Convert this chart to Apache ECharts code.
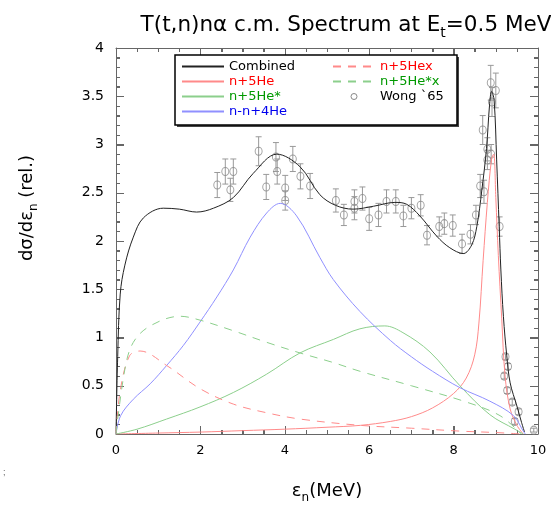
<!DOCTYPE html>
<html>
<head>
<meta charset="utf-8">
<script src="https://cdn.jsdelivr.net/npm/echarts@6/dist/echarts.min.js"></script>
<style>
  html, body { margin: 0; padding: 0; background: #fff; }
  #main { width: 551px; height: 509px; }
</style>
</head>
<body>
<div id="main"></div>
<script>
// curves, [energy MeV, value]
const combined = [[0, 0], [0.04, 0.8], [0.1, 1.45], [0.21, 1.75], [0.41, 2.04], [0.65, 2.24], [1.12, 2.34],
  [1.5, 2.33], [1.91, 2.30], [2.31, 2.34], [2.78, 2.45], [3.25, 2.70], [3.81, 2.90], [4.36, 2.77],
  [4.83, 2.48], [5.2, 2.37], [5.62, 2.33], [6.1, 2.36], [6.61, 2.40], [6.89, 2.38], [7.2, 2.26],
  [7.6, 2.05], [7.91, 1.93], [8.23, 1.87], [8.43, 1.96], [8.55, 2.15], [8.67, 2.53], [8.78, 2.96],
  [8.85, 3.4], [8.9, 3.55], [8.96, 3.46], [9.02, 2.84], [9.08, 2.15], [9.12, 1.7], [9.18, 1.22],
  [9.26, 0.81], [9.34, 0.53], [9.5, 0.29], [9.61, 0.12], [9.68, 0.02]];
const n5He = [[0, 0], [1, 0.01], [2, 0.02], [3, 0.035], [4, 0.05], [5, 0.07], [5.8, 0.09], [6.5, 0.13],
  [7, 0.18], [7.5, 0.27], [8, 0.42], [8.3, 0.58], [8.5, 0.82], [8.6, 1.15], [8.7, 1.8], [8.8, 2.4],
  [8.9, 2.85], [8.95, 2.9], [9.0, 2.45], [9.06, 1.85], [9.14, 1.2], [9.22, 0.6], [9.34, 0.26],
  [9.5, 0.09], [9.65, 0]];
const n5HeStar = [[0, 0], [0.5, 0.05], [1.2, 0.155], [1.99, 0.28], [2.78, 0.43], [3.57, 0.62],
  [4.36, 0.84], [5.15, 0.98], [5.78, 1.09], [6.37, 1.12], [6.8, 1.05], [7.44, 0.85], [8.15, 0.5],
  [8.86, 0.2], [9.45, 0.05], [9.65, 0]];
const nn4He = [[0, 0], [0.11, 0.19], [0.41, 0.36], [0.81, 0.52], [1.2, 0.71], [1.6, 0.92], [1.99, 1.16],
  [2.39, 1.42], [2.78, 1.70], [3.18, 2.04], [3.57, 2.29], [3.89, 2.39], [4.28, 2.26], [4.83, 1.83],
  [5.15, 1.60], [5.78, 1.27], [6.5, 0.97], [7, 0.80], [7.5, 0.65], [8.15, 0.48], [8.86, 0.34],
  [9.42, 0.19], [9.65, 0.03], [9.7, 0]];
const n5Hex = [[0, 0], [0.1, 0.45], [0.32, 0.81], [0.57, 0.86], [1.2, 0.71], [1.99, 0.47], [2.78, 0.31],
  [3.57, 0.22], [4.36, 0.155], [5.78, 0.09], [7, 0.06], [8.15, 0.03], [9, 0.015], [9.6, 0]];
const n5HeStarx = [[0, 0], [0.21, 0.67], [0.41, 0.95], [0.81, 1.12], [1.52, 1.22], [1.99, 1.18],
  [2.78, 1.07], [3.57, 0.95], [4.36, 0.84], [5.15, 0.74], [5.78, 0.65], [7, 0.5], [8.31, 0.33],
  [9.1, 0.19], [9.6, 0]];

// Wong `65 measurements
const dataX = [2.40, 2.59, 2.71, 2.78, 3.38, 3.56, 3.79, 3.82, 4.01, 4.01, 4.19, 4.37, 4.60, 5.21, 5.40,
  5.65, 5.65, 5.84, 6.00, 6.22, 6.41, 6.63, 6.81, 7.00, 7.22, 7.37, 7.66, 7.78, 7.98, 8.20, 8.40, 8.53,
  8.63, 8.72, 8.69, 8.80, 8.80, 8.89, 8.88, 9.00, 8.91, 9.09, 9.23, 9.29, 9.20, 9.27, 9.39, 9.54, 9.45, 9.90];
const dataY = [2.58, 2.72, 2.53, 2.72, 2.93, 2.56, 2.87, 2.72, 2.55, 2.42, 2.85, 2.67, 2.57, 2.42, 2.27,
  2.41, 2.34, 2.44, 2.23, 2.27, 2.41, 2.41, 2.26, 2.34, 2.37, 2.06, 2.15, 2.18, 2.16, 1.97, 2.07, 2.27,
  2.57, 2.51, 3.15, 2.95, 2.84, 2.90, 3.64, 3.56, 3.44, 2.15, 0.80, 0.70, 0.60, 0.45, 0.33, 0.23, 0.13, 0.04];
const dataErr = [0.13, 0.13, 0.12, 0.13, 0.15, 0.13, 0.15, 0.13, 0.13, 0.10, 0.13, 0.13, 0.13, 0.12, 0.11,
  0.12, 0.12, 0.12, 0.12, 0.12, 0.12, 0.12, 0.11, 0.11, 0.11, 0.10, 0.10, 0.11, 0.11, 0.10, 0.10, 0.10,
  0.12, 0.12, 0.15, 0.12, 0.10, 0.10, 0.18, 0.18, 0.15, 0.10, 0.03, 0.03, 0.03, 0.03, 0.03, 0.03, 0.03, 0.02];

// tick positions: majors carry labels, minors in between
const xMajor = [0, 2, 4, 6, 8, 10];
const yMajor = [0, 0.5, 1, 1.5, 2, 2.5, 3, 3.5, 4];
const xMinorStep = 0.5;
const yMinorStep = 0.1;

const points = dataX.map((x, i) => [x, dataY[i], dataErr[i]]);
const font = 'DejaVu Sans';
const axisGray = '#666';

// [x, y, kind, major]: kind 0 = tick on the x axes, 1 = tick on the y axes
const tickItems = [];
for (let i = 0; i <= 20; i++) {
    const v = Math.round(i * xMinorStep * 10) / 10;
    tickItems.push([v, 0, 0, xMajor.indexOf(v) >= 0 ? 1 : 0]);
}
for (let i = 0; i <= 40; i++) {
    const v = Math.round(i * yMinorStep * 100) / 100;
    tickItems.push([0, v, 1, yMajor.indexOf(v) >= 0 ? 1 : 0]);
}

let myChart = echarts.init(document.getElementById('main'));

function lineSeries(name, data, color, dashed) {
    return {
        name: name,
        type: 'line',
        data: data,
        smooth: 0.35,
        symbol: 'none',
        lineStyle: { color: color, width: 1, type: dashed ? [8, 7] : 'solid' },
        itemStyle: { color: color }
    };
}

function makeAxis(isX, pos, labels) {
    return {
        type: 'value', position: pos, min: 0, max: isX ? 10 : 4, interval: isX ? 2 : 0.5,
        axisLine: { show: true, onZero: false, lineStyle: { color: axisGray, width: 1 } },
        axisTick: { show: true, inside: true, length: 8, lineStyle: { color: axisGray, width: 1 } },
        minorTick: { show: true, splitNumber: isX ? 4 : 5, length: 4, lineStyle: { color: axisGray, width: 1 } },
        splitLine: { show: false },
        axisLabel: labels ? { show: true, color: '#000', fontSize: isX ? 13 : 14, margin: isX ? 10 : 12 }
                          : { show: false }
    };
}

const legendCommon = {
    orient: 'vertical', itemWidth: 42, itemHeight: 6, itemGap: 2, z: 20,
    textStyle: { fontSize: 13 },
    itemStyle: { opacity: 0 }
};

myChart.setOption({
    animation: false,
    textStyle: { fontFamily: font },
    title: {
        text: 'T(t,n)nα c.m. Spectrum at E{sub|t}=0.5 MeV',
        left: 341, top: 6, textAlign: 'center',
        textStyle: {
            fontSize: 21.5, fontWeight: 'normal', color: '#000',
            rich: { sub: { fontSize: 14, padding: [15, 0, 0, 0], color: '#000' } }
        }
    },
    grid: { left: 116, right: 13, top: 48, bottom: 74 },
    legend: [Object.assign({}, legendCommon, {
        left: 176, top: 55,
        data: [
            { name: 'Combined', textStyle: { color: '#000' } },
            { name: 'n+5He', textStyle: { color: '#ff0000' } },
            { name: 'n+5He*', textStyle: { color: '#009900' } },
            { name: 'n-n+4He', textStyle: { color: '#0000ee' } }
        ]
    }), Object.assign({}, legendCommon, {
        left: 327, top: 55,
        data: [
            { name: 'n+5Hex', textStyle: { color: '#ff0000' } },
            { name: 'n+5He*x', textStyle: { color: '#009900' } },
            { name: 'Wong `65', textStyle: { color: '#000' },
              itemStyle: { opacity: 1, color: 'rgba(255,255,255,0)', borderColor: '#888', borderWidth: 1 } }
        ]
    })],
    xAxis: [
        Object.assign(makeAxis(true, 'bottom', true), {
            name: '{t|ε}{s|n}{t|(MeV)}', nameLocation: 'middle', nameGap: 44,
            nameTextStyle: {
                rich: {
                    t: { fontSize: 18, color: '#000' },
                    s: { fontSize: 12, color: '#000', padding: [14, 0, 0, 0] }
                }
            }
        }),
        makeAxis(true, 'top', false)
    ],
    yAxis: [
        makeAxis(false, 'left', true),
        makeAxis(false, 'right', false)
    ],
    graphic: [
        { type: 'rect', z: 10, shape: { x: 177, y: 57, width: 282, height: 70 }, style: { fill: '#444', stroke: 'none' } },
        { type: 'rect', z: 11, shape: { x: 175, y: 55, width: 282, height: 70 }, style: { fill: '#fff', stroke: '#000', lineWidth: 1.5 } },
        {
            type: 'text', x: 27, y: 208, rotation: Math.PI / 2,
            style: {
                text: '{t|dσ/dε}{s|n}{t| (rel.)}', align: 'center', verticalAlign: 'middle',
                rich: {
                    t: { fontFamily: font, fontSize: 18, fill: '#000' },
                    s: { fontFamily: font, fontSize: 12, fill: '#000', padding: [14, 0, 0, 0] }
                }
            }
        },
        { type: 'text', left: 3, top: 468, style: { text: ';', fontSize: 9, fill: '#666' } }
    ],
    series: [
        lineSeries('Combined', combined, '#222', false),
        lineSeries('n+5He', n5He, '#ff8a8a', false),
        lineSeries('n+5He*', n5HeStar, '#8ccf8c', false),
        lineSeries('n-n+4He', nn4He, '#9090ff', false),
        lineSeries('n+5Hex', n5Hex, '#ff8a8a', true),
        lineSeries('n+5He*x', n5HeStarx, '#8ccf8c', true),
        {
            // frame ticks on all four sides, placed through the axes
            name: 'frameTicks',
            type: 'custom',
            data: tickItems,
            renderItem: function (params, api) {
                const kind = api.value(2), major = api.value(3);
                const len = major ? 8 : 4;
                const st = { stroke: axisGray, lineWidth: 1 };
                let a, b;
                if (kind === 1) {
                    a = api.coord([0, api.value(1)]);
                    b = api.coord([10, api.value(1)]);
                    const y = Math.round(a[1]) + 0.5;
                    return { type: 'group', children: [
                        { type: 'line', shape: { x1: a[0], y1: y, x2: a[0] + len, y2: y }, style: st },
                        { type: 'line', shape: { x1: b[0], y1: y, x2: b[0] - len, y2: y }, style: st }
                    ] };
                }
                a = api.coord([api.value(0), 0]);
                b = api.coord([api.value(0), 4]);
                const x = Math.round(a[0]) + 0.5;
                return { type: 'group', children: [
                    { type: 'line', shape: { x1: x, y1: a[1], x2: x, y2: a[1] - len }, style: st },
                    { type: 'line', shape: { x1: x, y1: b[1], x2: x, y2: b[1] + len }, style: st }
                ] };
            }
        },
        {
            name: 'errors',
            type: 'custom',
            data: points,
            renderItem: function (params, api) {
                const x = api.value(0), y = api.value(1), e = api.value(2);
                const top = api.coord([x, y + e]);
                const bot = api.coord([x, y - e]);
                const w = 3;
                const st = { stroke: '#999', lineWidth: 1 };
                return {
                    type: 'group',
                    children: [
                        { type: 'line', shape: { x1: top[0], y1: top[1], x2: bot[0], y2: bot[1] }, style: st },
                        { type: 'line', shape: { x1: top[0] - w, y1: top[1], x2: top[0] + w, y2: top[1] }, style: st },
                        { type: 'line', shape: { x1: bot[0] - w, y1: bot[1], x2: bot[0] + w, y2: bot[1] }, style: st }
                    ]
                };
            }
        },
        {
            name: 'Wong `65',
            type: 'scatter',
            data: points.map(p => [p[0], p[1]]),
            symbol: 'circle',
            symbolSize: [7, 8],
            itemStyle: { color: 'rgba(255,255,255,0)', borderColor: '#888', borderWidth: 1 }
        }
    ]
});
</script>
</body>
</html>
